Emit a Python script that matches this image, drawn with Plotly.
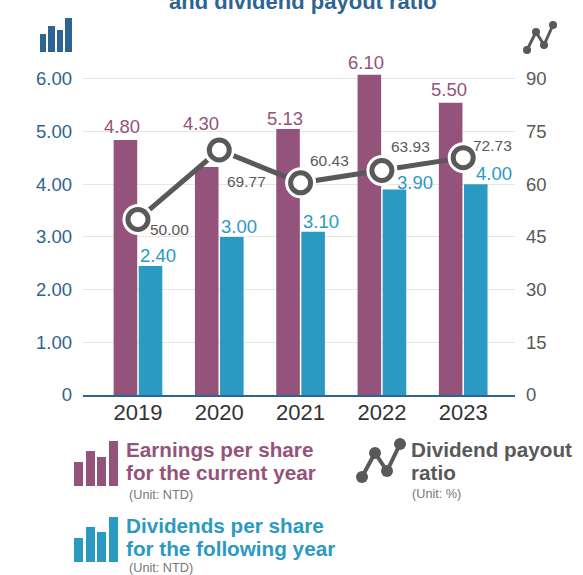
import plotly.graph_objects as go

years = ["2019", "2020", "2021", "2022", "2023"]
eps_values = [4.84, 4.33, 5.05, 6.08, 5.55]
eps_labels = ["4.80", "4.30", "5.13", "6.10", "5.50"]
div_values = [2.45, 3.00, 3.10, 3.90, 4.00]
div_labels = ["2.40", "3.00", "3.10", "3.90", "4.00"]
ratio_values = [50.0, 69.77, 60.43, 63.93, 67.6]
ratio_labels = ["50.00", "69.77", "60.43", "63.93", "72.73"]
left_ticks = [0, 1, 2, 3, 4, 5, 6]
left_tick_labels = ["0", "1.00", "2.00", "3.00", "4.00", "5.00", "6.00"]
right_ticks = [0, 15, 30, 45, 60, 75, 90]

W, H = 583, 575
FONT = "Liberation Sans, Arial, sans-serif"
BLUE = "#2d6491"; PURPLE = "#94537b"; TEAL = "#2b9ac2"; GREY = "#595959"
L, R, T, B = 83, 515, 50, 395

def px(x): return (x - L) / (R - L)
def py(y): return (B - y) / (B - T)

fig = go.Figure()
fig.add_bar(x=years, y=eps_values, marker_color=PURPLE, marker_line_width=0, yaxis="y")
fig.add_bar(x=years, y=div_values, marker_color=TEAL, marker_line_width=0, yaxis="y")
fig.add_scatter(x=years, y=ratio_values, mode="lines", yaxis="y2",
                line=dict(color=GREY, width=5))
fig.add_scatter(x=years, y=ratio_values, mode="markers", yaxis="y2",
                marker=dict(size=31, color="white"))
fig.add_scatter(x=years, y=ratio_values, mode="markers", yaxis="y2",
                marker=dict(size=20, color="white", line=dict(color=GREY, width=5)))

annotations = []
def data_label(i, v, t, yref, dx, dy, size, color):
    annotations.append(dict(x=i, y=v, xref="x", yref=yref, text=t, showarrow=False,
                            xshift=dx, yshift=dy, xanchor="center", yanchor="middle",
                            font=dict(size=size, color=color, family=FONT)))

eps_off = [(-16, 14), (-18, 43), (-16, 11), (-16, 12), (-14, 13)]
div_off = [(20, 10), (20, 10), (20, 10), (33, 7), (31, 11)]
ratio_off = [(32, -10), (27, -31), (29, 22), (29, 24), (29, 12)]
for i, (v, t, (dx, dy)) in enumerate(zip(eps_values, eps_labels, eps_off)):
    data_label(i, v, t, "y", dx, dy, 18.5, PURPLE)
for i, (v, t, (dx, dy)) in enumerate(zip(div_values, div_labels, div_off)):
    data_label(i, v, t, "y", dx, dy, 18.5, TEAL)
for i, (v, t, (dx, dy)) in enumerate(zip(ratio_values, ratio_labels, ratio_off)):
    data_label(i, v, t, "y2", dx, dy, 15.5, GREY)

def note(x, y, text, size, color, bold=False, anchor="left"):
    annotations.append(dict(x=px(x), y=py(y), xref="paper", yref="paper", xanchor=anchor, yanchor="middle",
                            text=f"<b>{text}</b>" if bold else text, showarrow=False,
                            font=dict(size=size, color=color, family=FONT)))

note(303, 1, "and dividend payout ratio", 22, BLUE, True, "center")
note(124, 449, "Earnings per share", 20.7, PURPLE, True)
note(124, 472, "for the current year", 20.7, PURPLE, True)
note(127, 495, "(Unit: NTD)", 12.7, "#777777")
note(124, 525, "Dividends per share", 20.7, TEAL, True)
note(124, 548, "for the following year", 20.7, TEAL, True)
note(127, 568, "(Unit: NTD)", 12.7, "#777777")
note(409, 449, "Dividend payout", 20.7, GREY, True)
note(409, 472, "ratio", 20.7, GREY, True)
note(410, 494, "(Unit: %)", 12.7, "#777777")

shapes = []
def bars_icon(xs, tops, bottom, color):
    for (a, b), t in zip(xs, tops):
        shapes.append(dict(type="rect", xref="paper", yref="paper", x0=px(a), x1=px(b),
                           y0=py(bottom), y1=py(t), fillcolor=color, line_width=0))

def line_icon(pts, color, width, r):
    for (a, b), (c, d) in zip(pts, pts[1:]):
        shapes.append(dict(type="line", xref="paper", yref="paper", x0=px(a), y0=py(b), x1=px(c), y1=py(d),
                           line=dict(color=color, width=width)))
    for a, b in pts:
        shapes.append(dict(type="circle", xref="paper", yref="paper", x0=px(a - r), x1=px(a + r),
                           y0=py(b + r), y1=py(b - r), fillcolor=color, line_width=0))

bars_icon([(40, 46), (48, 55), (57, 63), (65, 72)], [34, 26, 30, 18], 52, BLUE)
bars_icon([(74, 83), (86, 95), (97, 106), (109, 118)], [462, 451, 457, 441], 486, PURPLE)
bars_icon([(74, 83), (86, 95), (97, 106), (109, 118)], [538, 527, 532, 517], 562, TEAL)
line_icon([(527, 50), (536, 32), (544, 45), (553, 25)], GREY, 3, 4)
line_icon([(362, 477), (375, 453), (387, 471), (400, 444)], GREY, 4, 6)

fig.update_layout(
    width=W, height=H, autosize=False, showlegend=False,
    margin=dict(l=L, r=W - R, t=T, b=H - B, pad=0),
    paper_bgcolor="white", plot_bgcolor="white",
    barmode="group", bargap=0.383, bargroupgap=0.06,
    font=dict(family=FONT),
    annotations=annotations, shapes=shapes,
    xaxis=dict(type="category", range=[-0.676, 4.637], showgrid=False, showline=True,
               linecolor=BLUE, linewidth=2, ticks="", ticklabelstandoff=-3,
               tickfont=dict(size=22, color="#333333", family=FONT)),
    yaxis=dict(range=[0, 6.55], tickvals=left_ticks, ticktext=left_tick_labels, gridcolor="#e6e6e6",
               gridwidth=1, zeroline=False, showline=False, ticks="", ticklabelstandoff=10,
               tickfont=dict(size=18.5, color=BLUE, family=FONT)),
    yaxis2=dict(range=[0, 98.25], overlaying="y", side="right", tickvals=right_ticks, showgrid=False,
                zeroline=False, showline=False, ticks="", ticklabelstandoff=10,
                tickfont=dict(size=18.5, color=GREY, family=FONT)),
)
fig.write_html("out.html", config={"displayModeBar": False},
               post_script="document.body.style.margin='0';")
